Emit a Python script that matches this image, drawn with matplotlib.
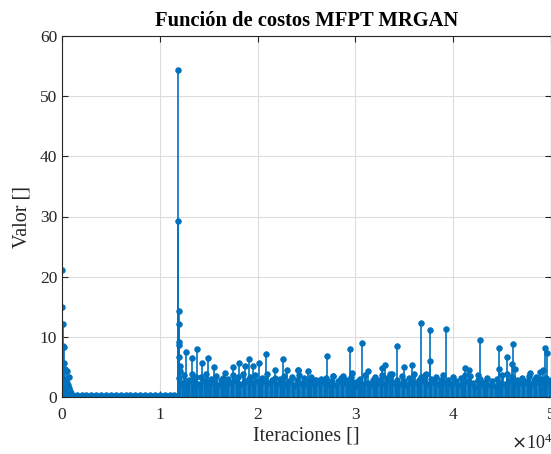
import numpy as np
import matplotlib.pyplot as plt

plt.rcParams['font.family'] = ['Liberation Serif', 'DejaVu Serif']

# Notable stems (iteration, value)
peak_x = [0, 40, 80, 120, 160, 220, 280, 550, 700,
          11880, 11900, 11920, 11940, 11960, 11980, 12000, 12020, 12040,
          12680, 13260, 13770, 14280, 14960, 15570, 16700, 17450, 18130, 18710,
          19150, 19560, 20170, 20830, 21780, 22630, 22970, 24100, 24170, 25120,
          25800, 27060, 27740, 28770, 29450, 29690, 30640, 31260, 32750, 33030,
          33540, 34290, 35000, 35820, 36680, 37120, 37630, 37650, 39260, 41210,
          41650, 42570, 42740, 44680, 44700, 45470, 45980, 46150, 46320, 47850,
          48880, 49210, 49390, 49620]
peak_y = [21.1, 14.9, 12.2, 8.5, 8.3, 5.6, 4.6, 4.4, 3.3,
          54.3, 29.2, 14.3, 12.2, 9.2, 8.6, 6.6, 5.2, 4.4,
          7.4, 6.5, 7.9, 5.6, 6.4, 5.0, 4.0, 5.0, 5.7, 5.1,
          6.3, 5.1, 5.6, 7.1, 4.5, 6.3, 4.5, 4.5, 4.5, 4.4,
          2.8, 6.8, 3.5, 3.5, 7.9, 4.0, 9.0, 4.4, 4.8, 5.3,
          3.9, 8.5, 5.0, 5.3, 12.3, 3.7, 11.2, 6.0, 11.3, 4.8,
          4.5, 3.7, 9.5, 8.1, 4.6, 6.7, 5.5, 8.8, 4.6, 4.0,
          4.2, 4.5, 8.2, 7.3]

# Dense low-level stems
start_x = [0, 100, 200, 300, 400, 500, 600, 700, 800, 900]
start_y = [2.5, 3.0, 2.2, 2.8, 1.9, 2.4, 2.0, 1.5, 1.0, 0.6]

flat_x = [1000, 1500, 2000, 2500, 3000, 3500, 4000, 4500, 5000, 5500, 6000,
          6500, 7000, 7500, 8000, 8500, 9000, 9500, 10000, 10500, 11000, 11500]
flat_y = [0.3, 0.3, 0.25, 0.3, 0.3, 0.3, 0.25, 0.3, 0.3, 0.3, 0.3,
          0.3, 0.25, 0.3, 0.3, 0.3, 0.3, 0.25, 0.3, 0.3, 0.3, 0.3]

band_x = np.arange(12000, 50001, 250)
band_y = [3.1, 2.4, 3.6, 2.2, 2.9, 3.8, 2.5, 3.3, 2.1, 3.4,
          2.6, 3.9, 2.3, 3.0, 2.4, 3.5, 2.0, 2.8, 3.2, 2.2,
          3.0, 2.4, 3.7, 2.6, 3.3, 2.1, 3.8, 2.5, 2.9, 3.4,
          2.3, 3.6, 2.7, 2.2, 3.1, 2.6, 3.9, 2.4, 2.8, 3.2,
          2.1, 3.0, 2.5, 3.5, 2.2, 2.7, 3.3, 2.0, 2.9, 3.6,
          2.4, 3.1, 2.2, 2.6, 3.4, 2.1, 2.8, 2.3, 3.0, 2.5,
          3.2, 2.2, 2.7, 3.5, 2.0, 2.6, 3.1, 2.4, 2.9, 2.1,
          3.3, 2.5, 1.8, 2.7, 3.0, 2.2, 3.6, 2.4, 2.0, 2.9,
          3.4, 2.3, 2.8, 3.7, 2.1, 3.2, 2.6, 3.9, 2.4, 2.9,
          2.2, 3.5, 2.7, 2.0, 3.1, 2.5, 3.8, 2.3, 2.8, 3.3,
          2.6, 3.9, 2.2, 3.0, 2.5, 3.4, 2.1, 2.8, 3.6, 2.4,
          2.9, 2.2, 3.3, 2.6, 2.0, 3.1, 2.4, 3.7, 2.7, 3.5,
          2.3, 1.6, 2.8, 3.0, 2.1, 2.5, 3.2, 2.0, 2.7, 1.9,
          3.0, 2.4, 3.6, 2.2, 3.8, 2.6, 3.3, 2.1, 2.9, 2.4,
          3.1, 2.3, 2.7, 3.5, 2.2, 2.9, 3.4, 2.5, 3.0, 2.6,
          3.2, 2.4, 2.8]

x_ticks = [0, 10000, 20000, 30000, 40000, 50000]
x_tick_labels = ['0', '1', '2', '3', '4', '5']
y_ticks = [0, 10, 20, 30, 40, 50, 60]

blue = '#0072BD'
dark = '#262626'

fig = plt.figure(figsize=(5.51, 4.54), dpi=100)
ax = fig.add_axes([62 / 551, 1 - 397 / 454, 489 / 551, 361 / 454])

# dense band of small stems
low_x = list(start_x) + list(flat_x) + list(band_x)
low_y = list(start_y) + list(flat_y) + list(band_y)
ax.vlines(low_x, 0, low_y, color=blue, linewidth=2.0)
ax.plot(low_x, low_y, 'o', color=blue, markersize=4, markeredgewidth=0.6)

# larger stems on top
ax.vlines(peak_x, 0, peak_y, color=blue, linewidth=1.2)
ax.plot(peak_x, peak_y, 'o', color=blue, markersize=4, markeredgewidth=0.6)

ax.set_xlim(0, 50000)
ax.set_ylim(0, 60)
ax.set_xticks(x_ticks)
ax.set_xticklabels(x_tick_labels)
ax.set_yticks(y_ticks)
ax.grid(True, color='#dcdcdc', linewidth=0.8)
ax.set_axisbelow(True)
ax.tick_params(direction='in', length=4, width=0.8, labelsize=12.5,
               top=True, right=True, colors=dark)
ax.tick_params(axis='x', pad=7)
for sp in ax.spines.values():
    sp.set_color(dark)
    sp.set_linewidth(0.8)

ax.set_title('Función de costos MFPT MRGAN', fontsize=14.8, fontweight='bold', pad=7)
ax.set_xlabel('Iteraciones []', fontsize=14.5, color=dark, labelpad=3)
ax.set_ylabel('Valor []', fontsize=14.5, color=dark, labelpad=6)
fig.text(511 / 551, 1 - 449 / 454, r'$\times\mathregular{10^4}$', fontsize=13, color=dark)

fig.savefig('out.png', dpi=100)
